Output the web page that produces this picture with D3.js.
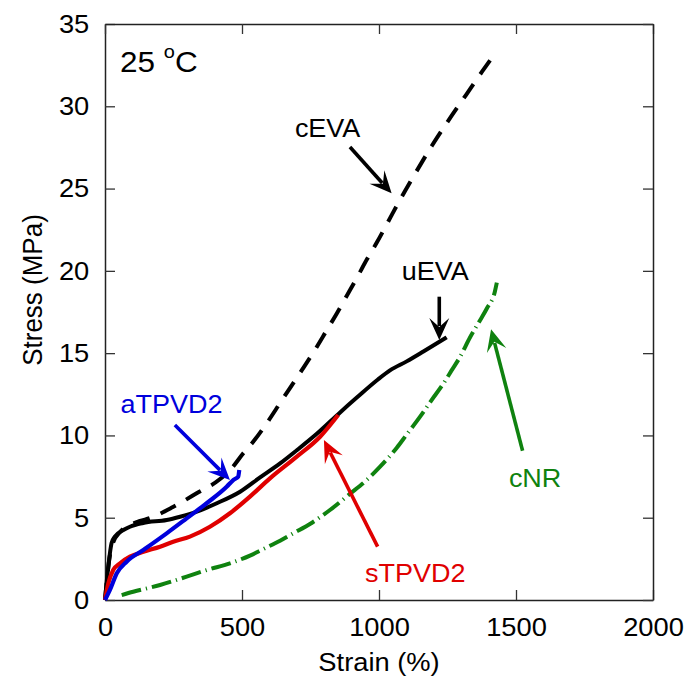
<!DOCTYPE html>
<html>
<head>
<meta charset="utf-8">
<script src="https://cdn.jsdelivr.net/npm/d3@7"></script>
<style>
  body { margin: 0; background: #fff; }
  svg { display: block; }
  text { font-family: "Liberation Sans", Arial, sans-serif; }
</style>
</head>
<body>
<svg id="chart" width="689" height="681"></svg>
<script>
// Tick values
const strainTicks = [0, 500, 1000, 1500, 2000];
const stressTicks = [0, 5, 10, 15, 20, 25, 30, 35];

// Stress-strain curves at 25 °C (strain in %, stress in MPa)
const cEVAStrain = [0, 7, 18, 29, 55, 91, 128, 164, 248, 336, 420, 463, 504, 540, 591, 639, 675, 719, 766, 810, 847, 876, 920, 956, 993, 1029, 1058, 1095, 1128, 1193, 1252, 1318, 1376, 1409];
const cEVAStress = [0, 1.22, 2.73, 3.46, 4.13, 4.56, 4.80, 4.98, 5.65, 6.50, 7.35, 8.02, 8.90, 9.60, 10.76, 11.97, 12.88, 13.98, 15.19, 16.41, 17.44, 18.30, 19.60, 20.70, 21.75, 22.85, 23.75, 24.85, 25.80, 27.60, 29.10, 30.70, 32.10, 32.87];

const uEVAStrain = [0, 12, 24, 36, 67, 91, 139, 225, 274, 335, 408, 493, 566, 639, 700, 773, 858, 919, 996, 1040, 1101, 1162, 1247];
const uEVAStress = [0, 2.02, 3.46, 3.85, 4.25, 4.45, 4.68, 4.86, 5.06, 5.37, 5.88, 6.58, 7.45, 8.30, 9.10, 10.10, 11.40, 12.30, 13.40, 13.95, 14.50, 15.10, 15.96];

const sTPVD2Strain = [0, 12, 30, 55, 91, 140, 201, 249, 310, 383, 456, 529, 602, 700, 785, 851];
const sTPVD2Stress = [0, 1.01, 1.82, 2.23, 2.63, 2.93, 3.24, 3.54, 3.85, 4.45, 5.27, 6.28, 7.39, 8.71, 9.92, 11.24];

const aTPVD2Strain = [0, 18, 43, 79, 140, 225, 298, 371, 444, 468, 486, 490];
const aTPVD2Stress = [0, 0.61, 1.62, 2.33, 3.04, 4.05, 4.96, 5.88, 6.88, 7.29, 7.49, 7.90];

const cNRStrain = [61, 103, 201, 298, 371, 456, 529, 578, 639, 687, 748, 821, 894, 955, 1004, 1065, 1101, 1150, 1192, 1235, 1265, 1296, 1332, 1369, 1393, 1423, 1430];
const cNRStress = [0.30, 0.50, 0.91, 1.42, 1.82, 2.23, 2.70, 3.10, 3.60, 4.05, 4.62, 5.47, 6.45, 7.29, 8.10, 9.25, 10.05, 11.14, 12.15, 13.15, 13.95, 14.78, 15.95, 17.00, 17.70, 18.75, 19.28];

const svg = d3.select("#chart");
const W = 689, H = 681;
const margin = { left: 105, right: 36, top: 24, bottom: 81 };

const x = d3.scaleLinear().domain([0, 2000]).range([margin.left, W - margin.right]);
const y = d3.scaleLinear().domain([0, 35]).range([H - margin.bottom, margin.top]);

const FONT = 26;
const STRETCH = 1.05;
const fmt = d3.format("d");

// Axes: inward ticks on all four sides
function styleAxis(g) {
  g.select(".domain").attr("stroke", "#222").attr("stroke-width", 1.5);
  g.selectAll(".tick line").attr("stroke", "#333").attr("stroke-width", 1.3);
  g.selectAll(".tick text")
    .attr("fill", "#000")
    .attr("font-size", FONT)
    .attr("font-family", "Liberation Sans, Arial, sans-serif");
}

svg.append("g")
  .attr("transform", `translate(0,${y(0)})`)
  .call(d3.axisBottom(x).tickValues(strainTicks).tickFormat(fmt).tickSizeInner(-10).tickSizeOuter(0).tickPadding(18))
  .call(styleAxis)
  .call(g => g.selectAll(".tick text").attr("transform", `scale(${STRETCH},1)`));

svg.append("g")
  .attr("transform", `translate(${x(0)},0)`)
  .call(d3.axisLeft(y).tickValues(stressTicks).tickFormat(fmt).tickSizeInner(-10).tickSizeOuter(0).tickPadding(15))
  .call(styleAxis)
  .call(g => g.selectAll(".tick text").attr("transform", `scale(${STRETCH},1)`));

svg.append("g")
  .attr("transform", `translate(0,${y(35)})`)
  .call(d3.axisTop(x).tickValues(strainTicks).tickSizeInner(-10).tickSizeOuter(0).tickFormat(""))
  .call(styleAxis);

svg.append("g")
  .attr("transform", `translate(${x(2000)},0)`)
  .call(d3.axisRight(y).tickValues(stressTicks).tickSizeInner(-10).tickSizeOuter(0).tickFormat(""))
  .call(styleAxis);

// Axis titles
svg.append("text")
  .attr("transform", `translate(${(x(0) + x(2000)) / 2},671) scale(${STRETCH},1)`)
  .attr("text-anchor", "middle")
  .attr("font-size", FONT)
  .text("Strain (%)");

svg.append("text")
  .attr("transform", `translate(42,290) scale(${STRETCH},1) rotate(-90)`)
  .attr("text-anchor", "middle")
  .attr("font-size", FONT)
  .text("Stress (MPa)");

// Curves
const line = d3.line().x(d => x(d[0])).y(d => y(d[1])).curve(d3.curveMonotoneX);
const zip = (a, b) => a.map((v, i) => [v, b[i]]);

const GREEN = "#0f820f", RED = "#e00000", BLUE = "#0000dc", BLACK = "#000";

const curves = [
  { pts: zip(cNRStrain, cNRStress), color: GREEN, width: 4, dash: "20,5,1.2,5" },
  { pts: zip(cEVAStrain, cEVAStress), color: BLACK, width: 4, dash: "17,12" },
  { pts: zip(uEVAStrain, uEVAStress), color: BLACK, width: 4, dash: null },
  { pts: zip(sTPVD2Strain, sTPVD2Stress), color: RED, width: 4.2, dash: null },
  { pts: zip(aTPVD2Strain, aTPVD2Stress), color: BLUE, width: 4.2, dash: null }
];

svg.append("g").selectAll("path")
  .data(curves)
  .join("path")
  .attr("d", d => line(d.pts))
  .attr("fill", "none")
  .attr("stroke", d => d.color)
  .attr("stroke-width", d => d.width)
  .attr("stroke-dasharray", d => d.dash)
  .attr("stroke-linejoin", "round");

// Annotation arrows and labels (positions in data units)
const notes = [
  { text: "cEVA",   color: BLACK, label: [693, 28.13], from: [894, 27.53],  to: [1046, 24.71] },
  { text: "uEVA",   color: BLACK, label: [1083, 19.44], from: [1220, 18.43], to: [1220, 15.80] },
  { text: "cNR",    color: GREEN, label: [1474, 6.88], from: [1524, 9.07],  to: [1409, 16.45] },
  { text: "sTPVD2", color: RED,   label: [949, 1.11],  from: [995, 3.24],   to: [799, 9.72] },
  { text: "aTPVD2", color: BLUE,  label: [57, 11.36],  from: [255, 10.63],  to: [456, 7.29] }
];

const ag = svg.append("g");
notes.forEach(n => {
  const x0 = x(n.from[0]), y0 = y(n.from[1]);
  const x1 = x(n.to[0]), y1 = y(n.to[1]);
  const len = Math.hypot(x1 - x0, y1 - y0);
  const ux = (x1 - x0) / len, uy = (y1 - y0) / len;
  const nx = -uy, ny = ux;
  const L = 22, Wd = 10, notch = 13;
  ag.append("line")
    .attr("x1", x0).attr("y1", y0)
    .attr("x2", x1 - ux * (notch + 1)).attr("y2", y1 - uy * (notch + 1))
    .attr("stroke", n.color).attr("stroke-width", 3.6);
  const head = [
    [x1, y1],
    [x1 - ux * L + nx * Wd, y1 - uy * L + ny * Wd],
    [x1 - ux * notch, y1 - uy * notch],
    [x1 - ux * L - nx * Wd, y1 - uy * L - ny * Wd]
  ];
  ag.append("path")
    .attr("d", "M" + head.map(p => p.join(",")).join("L") + "Z")
    .attr("fill", n.color);
  ag.append("text")
    .attr("transform", `translate(${x(n.label[0])},${y(n.label[1])}) scale(1.08,1)`)
    .attr("font-size", 25)
    .attr("fill", n.color)
    .text(n.text);
});

// Temperature note
const tNote = svg.append("text")
  .attr("transform", `translate(${x(55)},${y(32.1)}) scale(${STRETCH},1)`)
  .attr("font-size", 30)
  .attr("fill", "#000");
tNote.append("tspan").text("25 ");
tNote.append("tspan").attr("font-size", 19).attr("dy", -14).text("o");
tNote.append("tspan").attr("dy", 14).text("C");
</script>
</body>
</html>
